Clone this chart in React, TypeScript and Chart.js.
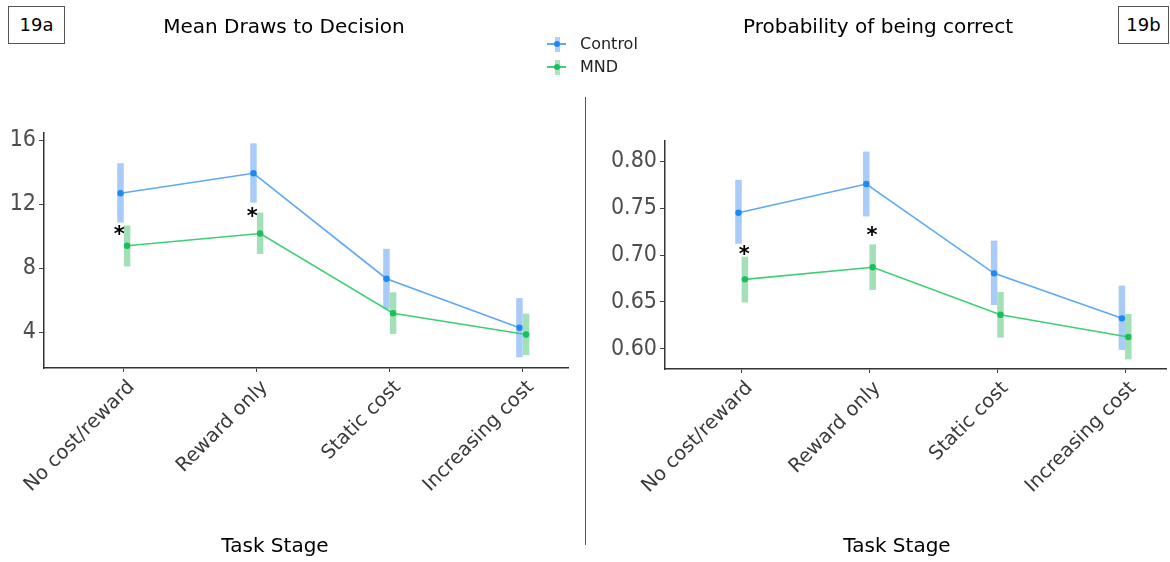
import React, { useEffect, useRef } from "react";
import { Chart, registerables } from "chart.js";

Chart.register(...registerables);

// Task stages on the x axis
const stages = ["No cost/reward", "Reward only", "Static cost", "Increasing cost"];
const groups = ["Control", "MND"];
const xAxisTitle = "Task Stage";

// Mean draws to decision (mean with error range)
const drawsControl = [12.67, 13.92, 7.33, 4.27];
const drawsControlLow = [10.84, 12.09, 5.44, 2.42];
const drawsControlHigh = [14.55, 15.79, 9.2, 6.12];
const drawsMND = [9.39, 10.16, 5.17, 3.84];
const drawsMNDLow = [8.1, 8.88, 3.88, 2.55];
const drawsMNDHigh = [10.66, 11.47, 6.48, 5.15];
const drawsTicks = [4, 8, 12, 16];
const drawsStars = [10.45, 11.6, null, null];

// Probability of being correct (mean with error range)
const probControl = [0.745, 0.7755, 0.6805, 0.6326];
const probControlLow = [0.712, 0.741, 0.6468, 0.599];
const probControlHigh = [0.78, 0.81, 0.7153, 0.6674];
const probMND = [0.6741, 0.6869, 0.6365, 0.6128];
const probMNDLow = [0.6496, 0.6628, 0.612, 0.589];
const probMNDHigh = [0.6982, 0.7113, 0.6606, 0.6372];
const probTicks = [0.6, 0.65, 0.7, 0.75, 0.8];
const probStars = [0.707, 0.727, null, null];

const BLUE = { line: "#5ea8f7", point: "#1c8af2", bar: "#a9cbf8" };
const GREEN = { line: "#3ecf72", point: "#17c05a", bar: "#a3e0b7" };
const DODGE = 0.025;

type Series = {
  label: string;
  mean: number[];
  low: number[];
  high: number[];
  color: { line: string; point: string; bar: string };
  shift: number;
};

type PanelProps = {
  left: number;
  width: number;
  padTop: number;
  padRight: number;
  axisWidth: number;
  axisBottom: number;
  yMin: number;
  yMax: number;
  yTicks: number[];
  yDigits: number;
  xMin: number;
  xMax: number;
  series: Series[];
  stars: (number | null)[];
  starShift: number;
};

function Panel(p: PanelProps) {
  const ref = useRef<HTMLCanvasElement | null>(null);

  useEffect(() => {
    const canvas = ref.current;
    if (!canvas) return;

    const markers = {
      id: "rangesAndStars",
      beforeDatasetsDraw(chart: any) {
        const { ctx, scales } = chart;
        const x = scales.x;
        const y = scales.y;
        ctx.save();
        for (const s of p.series) {
          ctx.fillStyle = s.color.bar;
          s.low.forEach((lo, i) => {
            const cx = x.getPixelForValue(i + 1 + s.shift);
            const top = y.getPixelForValue(s.high[i]);
            const bottom = y.getPixelForValue(lo);
            ctx.fillRect(cx - 3.25, top, 6.5, bottom - top);
          });
        }
        ctx.restore();
      },
      afterDatasetsDraw(chart: any) {
        const { ctx, scales } = chart;
        const x = scales.x;
        const y = scales.y;
        ctx.save();
        ctx.fillStyle = "#000";
        ctx.font = "bold 21px 'DejaVu Sans'";
        ctx.textAlign = "center";
        ctx.textBaseline = "alphabetic";
        p.stars.forEach((v, i) => {
          if (v == null) return;
          const cx = x.getPixelForValue(i + 1 + p.starShift);
          const cy = y.getPixelForValue(v);
          ctx.fillText("*", cx, cy + 0.6 * 21);
        });
        ctx.restore();
      },
    };

    const chart = new Chart(canvas, {
      type: "line",
      data: {
        datasets: p.series.map((s) => ({
          label: s.label,
          data: s.mean.map((v, i) => ({ x: i + 1 + s.shift, y: v })),
          borderColor: s.color.line,
          backgroundColor: s.color.point,
          borderWidth: 1.6,
          pointRadius: 3.2,
          pointBorderWidth: 0,
          pointBackgroundColor: s.color.point,
          tension: 0,
        })),
      },
      options: {
        responsive: false,
        maintainAspectRatio: false,
        animation: false,
        devicePixelRatio: 1,
        layout: { padding: { top: p.padTop, right: p.padRight, left: 0, bottom: 0 } },
        plugins: { legend: { display: false }, tooltip: { enabled: false }, title: { display: false } },
        scales: {
          x: {
            type: "linear",
            min: p.xMin,
            max: p.xMax,
            afterBuildTicks: (s: any) => {
              s.ticks = stages.map((_, i) => ({ value: i + 1 }));
            },
            afterFit: (s: any) => {
              s.height = 562 - p.axisBottom;
              s.paddingLeft = 0;
              s.paddingRight = 0;
            },
            ticks: {
              autoSkip: false,
              minRotation: 45,
              maxRotation: 45,
              labelOffset: 8,
              padding: 4,
              color: "#3a3a3a",
              font: { family: "'DejaVu Sans'", size: 19.5 },
              callback: (_v: any, i: number) => stages[i],
            },
            grid: { drawOnChartArea: false, drawTicks: true, tickLength: 4, color: "#444", lineWidth: 1 },
            border: { display: true, color: "#333", width: 1.5 },
            title: { display: false },
          },
          y: {
            type: "linear",
            min: p.yMin,
            max: p.yMax,
            afterBuildTicks: (s: any) => {
              s.ticks = p.yTicks.map((v) => ({ value: v }));
            },
            afterFit: (s: any) => {
              s.width = p.axisWidth;
            },
            ticks: {
              padding: 3,
              color: "#4d4d4d",
              font: { family: "'Liberation Sans Narrow', 'DejaVu Sans Condensed', sans-serif", size: 23 },
              callback: (v: any) => Number(v).toFixed(p.yDigits),
            },
            grid: { drawOnChartArea: false, drawTicks: true, tickLength: 5, color: "#444", lineWidth: 1 },
            border: { display: true, color: "#333", width: 1.5 },
          },
        },
      },
      plugins: [markers],
    } as any);

    return () => chart.destroy();
  }, []);

  return (
    <canvas
      ref={ref}
      width={p.width}
      height={562}
      style={{ position: "absolute", left: p.left, top: 0, width: p.width, height: 562 }}
    />
  );
}

const textFont = "'DejaVu Sans', sans-serif";

function LegendRow({ color, label, y }: { color: { line: string; point: string; bar: string }; label: string; y: number }) {
  return (
    <>
      <div style={{ position: "absolute", left: 547, top: y - 1, width: 19, height: 2, background: color.line }} />
      <div style={{ position: "absolute", left: 554.5, top: y - 7.5, width: 5, height: 15, background: color.bar, opacity: 0.9 }} />
      <div
        style={{
          position: "absolute",
          left: 554,
          top: y - 3,
          width: 6,
          height: 6,
          borderRadius: 3,
          background: color.point,
        }}
      />
      <div style={{ position: "absolute", left: 580, top: y - 10, lineHeight: "20px", fontSize: 16, fontFamily: textFont, color: "#222" }}>
        {label}
      </div>
    </>
  );
}

export default function App() {
  const leftSeries: Series[] = [
    { label: groups[0], mean: drawsControl, low: drawsControlLow, high: drawsControlHigh, color: BLUE, shift: -DODGE },
    { label: groups[1], mean: drawsMND, low: drawsMNDLow, high: drawsMNDHigh, color: GREEN, shift: DODGE },
  ];
  const rightSeries: Series[] = [
    { label: groups[0], mean: probControl, low: probControlLow, high: probControlHigh, color: BLUE, shift: -DODGE },
    { label: groups[1], mean: probMND, low: probMNDLow, high: probMNDHigh, color: GREEN, shift: DODGE },
  ];

  const boxStyle: React.CSSProperties = {
    position: "absolute",
    top: 6,
    height: 36,
    border: "1px solid #555",
    fontFamily: textFont,
    fontSize: 18,
    lineHeight: "36px",
    textAlign: "center",
    color: "#000",
    background: "#fff",
  };
  const titleStyle: React.CSSProperties = {
    position: "absolute",
    top: 14,
    width: 400,
    lineHeight: "24px",
    fontFamily: textFont,
    fontSize: 20,
    textAlign: "center",
    color: "#000",
    whiteSpace: "nowrap",
  };

  return (
    <div style={{ position: "absolute", left: 0, top: 0, width: 1170, height: 562, background: "#fff", overflow: "hidden" }}>
      <Panel
        left={0}
        width={585}
        padTop={133}
        padRight={17}
        axisWidth={44}
        axisBottom={368}
        yMin={1.75}
        yMax={16.44}
        yTicks={drawsTicks}
        yDigits={0}
        xMin={0.4}
        xMax={4.34}
        series={leftSeries}
        stars={drawsStars}
        starShift={-0.035}
      />
      <Panel
        left={586}
        width={584}
        padTop={141}
        padRight={2}
        axisWidth={79}
        axisBottom={369}
        yMin={0.5787}
        yMax={0.8213}
        yTicks={probTicks}
        yDigits={2}
        xMin={0.4}
        xMax={4.32}
        series={rightSeries}
        stars={probStars}
        starShift={0.02}
      />
      <div style={{ position: "absolute", left: 585, top: 97, width: 1, height: 448, background: "#555" }} />
      <div style={{ ...boxStyle, left: 8, width: 55 }}>19a</div>
      <div style={{ ...boxStyle, left: 1118, width: 49 }}>19b</div>
      <div style={{ ...titleStyle, left: 284 - 200 }}>Mean Draws to Decision</div>
      <div style={{ ...titleStyle, left: 878 - 200 }}>Probability of being correct</div>
      <div style={{ ...titleStyle, top: 533, left: 275 - 200 }}>{xAxisTitle}</div>
      <div style={{ ...titleStyle, top: 533, left: 897 - 200 }}>{xAxisTitle}</div>
      <LegendRow color={BLUE} label={groups[0]} y={44} />
      <LegendRow color={GREEN} label={groups[1]} y={67} />
    </div>
  );
}
